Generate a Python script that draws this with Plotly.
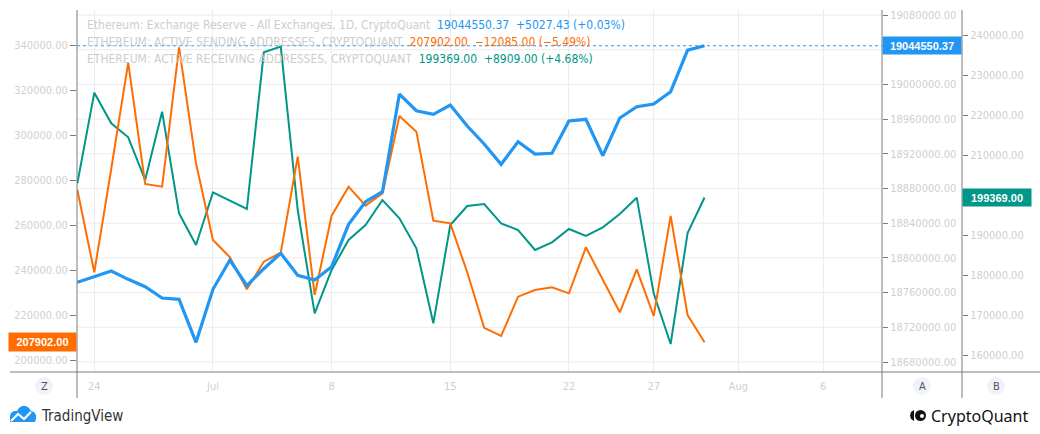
import pandas as pd
import plotly.graph_objects as go

# ---------------- data ----------------
start_date = "2021-06-23"
end_date = "2021-07-30"
dates = pd.date_range(start_date, end_date, freq="D")

exchange_reserve = [18771870, 18778325, 18784900, 18775300, 18766800, 18753770, 18752270, 18702700,
                    18763800, 18797575, 18767950, 18787550, 18805300, 18779930, 18774520, 18789860,
                    18838700, 18864800, 18876300, 18988900, 18969700, 18965500, 18976240, 18952000,
                    18931300, 18907900, 18933900, 18919760, 18920560, 18957800, 18959760, 18917800,
                    18961260, 18974300, 18977400, 18991600, 19039522.94, 19044550.37]
sending_addresses = [275556, 238970, 285000, 332150, 278222, 277037, 338963, 287407,
                     253333, 245630, 231407, 243704, 247704, 290370, 228889, 264148,
                     277037, 268593, 274074, 308444, 301481, 261926, 260741, 239000,
                     214300, 210667, 228148, 231111, 232296, 229630, 250074, 235556,
                     221185, 240296, 219556, 264000, 219987, 207902]
receiving_addresses = [202917, 225583, 217917, 214417, 203750, 220833, 195417, 187500,
                       200667, 198583, 196500, 235667, 237083, 196250, 170417, 181250,
                       188750, 192500, 198750, 194167, 186667, 167917, 192500, 197250,
                       197750, 192917, 191250, 186250, 188167, 191500, 189750, 191917,
                       195250, 199333, 175417, 162750, 190460, 199369]

x_tick_dates = ["2021-06-24", "2021-07-01", "2021-07-08", "2021-07-15",
                "2021-07-22", "2021-07-27", "2021-08-01", "2021-08-06"]
x_tick_labels = ["24", "Jul", "8", "15", "22", "27", "Aug", "6"]

left_ticks = [200000, 220000, 240000, 260000, 280000, 300000, 320000, 340000]
reserve_ticks = [18680000, 18720000, 18760000, 18800000, 18840000, 18880000,
                 18920000, 18960000, 19000000, 19080000]
reserve_grid = [18680000, 18720000, 18760000, 18800000, 18840000, 18880000,
                18920000, 18960000, 19000000, 19040000, 19080000]
receiving_ticks = [160000, 170000, 180000, 190000, 210000, 220000, 230000, 240000]

series_names = ["Ethereum: Exchange Reserve - All Exchanges, 1D, CryptoQuant",
                "ETHEREUM: ACTIVE SENDING ADDRESSES, CRYPTOQUANT",
                "ETHEREUM: ACTIVE RECEIVING ADDRESSES, CRYPTOQUANT"]

# ---------------- style ----------------
W, H = 1040, 434
BLUE, ORANGE, GREEN = "#2196f3", "#ff6d00", "#009688"
LABEL = "#cfcfcf"
AXIS = "#7a7a7a"
GRID = "#ebebf0"
FONT = "Liberation Sans Narrow, DejaVu Sans Condensed, Arial Narrow, sans-serif"
BADGE_FONT = "Liberation Sans, Arial, sans-serif"

def px(x):
    return x / W

def py(y):
    return 1 - y / H

left, right_a, right_b = 77, 882, 962
top, bottom = 10, 372

fig = go.Figure()
fig.add_trace(go.Scatter(x=dates, y=receiving_addresses, yaxis="y", mode="lines",
                         line=dict(color=GREEN, width=2), name=series_names[2]))
fig.add_trace(go.Scatter(x=dates, y=sending_addresses, yaxis="y2", mode="lines",
                         line=dict(color=ORANGE, width=2), name=series_names[1]))
fig.add_trace(go.Scatter(x=dates, y=exchange_reserve, yaxis="y3", mode="lines",
                         line=dict(color=BLUE, width=3.2), name=series_names[0]))

tickfont = dict(family=FONT, size=11, color=LABEL)
dom_y = [py(bottom), py(top)]

fig.update_layout(
    width=W, height=H, autosize=False,
    margin=dict(l=0, r=0, t=0, b=0),
    paper_bgcolor="white", plot_bgcolor="white",
    showlegend=False,
    font=dict(family=FONT),
    xaxis=dict(domain=[px(left), px(right_a)], type="date",
               range=["2021-06-22 23:30", "2021-08-09 11:15"],
               tickvals=x_tick_dates, ticktext=x_tick_labels,
               showgrid=True, gridcolor=GRID, gridwidth=1,
               ticks="", showline=False, zeroline=False,
               tickfont=dict(family=FONT, size=11, color=LABEL),
               ticklabelstandoff=6, anchor="y"),
    # green (B)
    yaxis=dict(domain=dom_y, anchor="free", position=px(right_b), side="right",
               range=[155750, 246250], tickvals=receiving_ticks, tickformat=".2f",
               showgrid=False, zeroline=False, showline=False,
               ticks="outside", ticklen=5, tickcolor=AXIS, tickfont=tickfont),
    # orange (left)
    yaxis2=dict(domain=dom_y, overlaying="y", anchor="x", side="left",
                range=[194667, 355556], tickvals=left_ticks, tickformat=".2f",
                showgrid=False, zeroline=False, showline=False,
                ticks="outside", ticklen=6, tickcolor=AXIS, tickfont=tickfont),
    # blue (A)
    yaxis3=dict(domain=dom_y, overlaying="y", anchor="x", side="right",
                range=[18668473, 19085764], tickvals=reserve_ticks, tickformat=".2f",
                showgrid=False, zeroline=False, showline=False,
                ticks="outside", ticklen=5, tickcolor=AXIS, tickfont=tickfont),
)

shapes = []
# horizontal grid lines (reserve scale)
for gv in reserve_grid:
    shapes.append(dict(type="line", xref="paper", yref="y3", x0=px(left), x1=px(right_a),
                       y0=gv, y1=gv, layer="below", line=dict(color=GRID, width=1)))
# frame lines
shapes.append(dict(type="line", xref="paper", yref="paper", x0=px(10), x1=1,
                   y0=py(bottom), y1=py(bottom), line=dict(color=AXIS, width=1)))
for xv in (left, right_a, right_b):
    shapes.append(dict(type="line", xref="paper", yref="paper", x0=px(xv), x1=px(xv),
                       y0=py(top), y1=py(398), line=dict(color=AXIS, width=1)))
# last-value dotted line for exchange reserve
shapes.append(dict(type="line", xref="paper", yref="y3", x0=px(left), x1=px(right_a),
                   y0=exchange_reserve[-1], y1=exchange_reserve[-1],
                   line=dict(color=BLUE, width=1, dash="dot")))
# axis badge circles
for cx in (44, 922, 996):
    shapes.append(dict(type="circle", xref="paper", yref="paper",
                       x0=px(cx - 9), x1=px(cx + 9), y0=py(386 + 9), y1=py(386 - 9),
                       fillcolor="#f0f3fa", line=dict(width=0)))

def path(points, close=True):
    s = "M " + " L ".join(f"{px(a):.5f},{py(b):.5f}" for a, b in points)
    return s + (" Z" if close else "")

# TradingView cloud icon
cloud = [(10, 422), (10, 416), (11, 413), (14, 411), (17, 411), (19, 408), (22, 406), (26, 406),
         (29, 408), (31, 411), (34, 412), (36, 415), (36, 419), (35, 422)]
shapes.append(dict(type="path", xref="paper", yref="paper", path=path(cloud),
                   fillcolor="#2196f3", line=dict(width=0)))
shapes.append(dict(type="path", xref="paper", yref="paper",
                   path=path([(11, 421), (18, 414), (24, 419), (31, 412)], close=False),
                   line=dict(color="white", width=2.2)))
# CryptoQuant icon
shapes.append(dict(type="path", xref="paper", yref="paper",
                   path=path([(914, 410), (911, 412), (910, 415.5), (911, 419), (914, 421)]),
                   fillcolor="#111", line=dict(width=0)))
shapes.append(dict(type="circle", xref="paper", yref="paper",
                   x0=px(915), x1=px(926), y0=py(421), y1=py(410),
                   fillcolor="#111", line=dict(width=0)))
shapes.append(dict(type="circle", xref="paper", yref="paper",
                   x0=px(920), x1=px(924), y0=py(418), y1=py(414),
                   fillcolor="white", line=dict(width=0)))
fig.update_layout(shapes=shapes)

annotations = []

def fmt_change(vals):
    last, prev = vals[-1], vals[-2]
    ch = last - prev
    pct = ch / prev * 100
    sign = "+" if ch >= 0 else "\u2212"
    return f"{last:.2f}&nbsp;&nbsp;{sign}{abs(ch):.2f}&nbsp;({sign}{abs(pct):.2f}%)"

legend_rows = [(series_names[0], exchange_reserve, BLUE, 25),
               (series_names[1], sending_addresses, ORANGE, 42),
               (series_names[2], receiving_addresses, GREEN, 59)]
for name, vals, col, yy in legend_rows:
    annotations.append(dict(
        xref="paper", yref="paper", x=px(85), y=py(yy), xanchor="left", yanchor="middle",
        showarrow=False, align="left",
        text=f"<span style='color:#cdcdcd'>{name}</span>&nbsp;&nbsp;<span style='color:{col}'>{fmt_change(vals)}</span>",
        font=dict(family=FONT, size=12, color="#cdcdcd")))

# price badges
annotations.append(dict(xref="paper", yref="y3", x=px(right_a), y=exchange_reserve[-1],
                        xanchor="left", yanchor="middle", showarrow=False,
                        text=f"<b>{exchange_reserve[-1]:.2f}</b>", bgcolor=BLUE,
                        width=74, height=13, borderpad=2,
                        font=dict(family=BADGE_FONT, size=11, color="white")))
annotations.append(dict(xref="paper", yref="y", x=px(right_b), y=receiving_addresses[-1],
                        xanchor="left", yanchor="middle", showarrow=False,
                        text=f"<b>{receiving_addresses[-1]:.2f}</b>", bgcolor=GREEN,
                        width=64, height=13, borderpad=2,
                        font=dict(family=BADGE_FONT, size=11, color="white")))
annotations.append(dict(xref="paper", yref="y2", x=px(left), y=sending_addresses[-1],
                        xanchor="right", yanchor="middle", showarrow=False,
                        text=f"<b>{sending_addresses[-1]:.2f}</b>", bgcolor=ORANGE,
                        width=63, height=14, borderpad=2,
                        font=dict(family=BADGE_FONT, size=11, color="white")))
# badge letters
for cx, letter in ((44, "Z"), (922, "A"), (996, "B")):
    annotations.append(dict(xref="paper", yref="paper", x=px(cx), y=py(386),
                            xanchor="center", yanchor="middle", showarrow=False,
                            text=letter, font=dict(family=FONT, size=11, color="#555")))
# logos text
annotations.append(dict(xref="paper", yref="paper", x=px(39), y=py(416),
                        xanchor="left", yanchor="middle", showarrow=False,
                        text="TradingView", font=dict(family=FONT, size=15, color="#333")))
annotations.append(dict(xref="paper", yref="paper", x=px(929), y=py(416),
                        xanchor="left", yanchor="middle", showarrow=False,
                        text="CryptoQuant", font=dict(family="Noto Sans, Inter, sans-serif",
                                                      size=16, color="#111")))
fig.update_layout(annotations=annotations)

fig.write_html("out.html")
